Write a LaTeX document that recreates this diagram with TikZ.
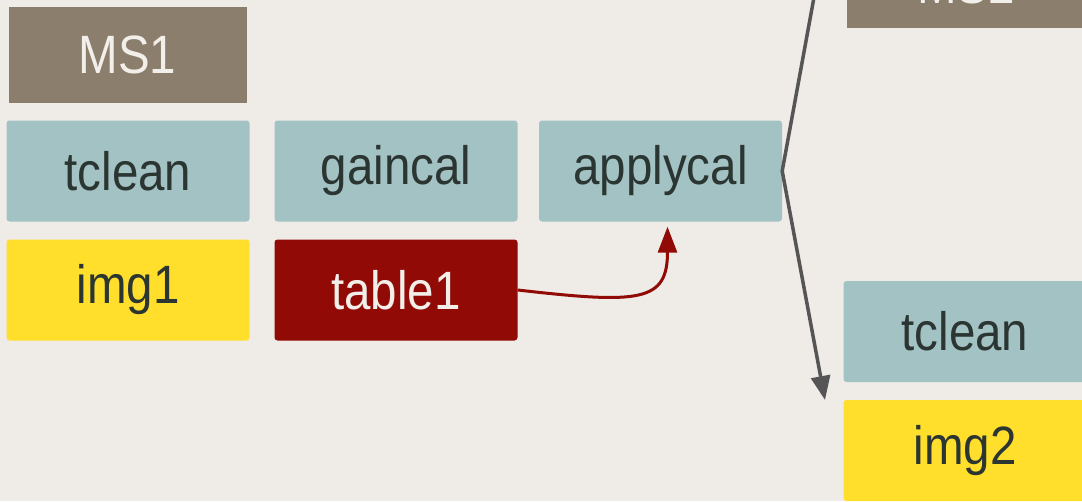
\documentclass[tikz,border=0pt]{standalone}
\usepackage{fontspec}
\setmainfont{Liberation Sans}
\newfontfamily\boxfont[FakeStretch=0.88]{Liberation Sans}
\usetikzlibrary{arrows.meta}
\definecolor{bgcol}{HTML}{EFECE8}
\definecolor{msbrown}{HTML}{8B7E6D}
\definecolor{taskteal}{HTML}{A3C2C4}
\definecolor{imgyellow}{HTML}{FFDF2C}
\definecolor{tabred}{HTML}{910A05}
\definecolor{darktxt}{HTML}{2B3532}
\definecolor{lighttxt}{HTML}{F2EEE9}
\definecolor{linegray}{HTML}{555555}

\begin{document}
\begin{tikzpicture}[x=1pt,y=-1pt,
  box/.style={inner sep=0pt, minimum width=243pt, minimum height=101pt, font=\boxfont\fontsize{54}{60}\selectfont},
  msbox/.style={box, fill=msbrown, text=lighttxt, minimum width=238pt, minimum height=96pt},
  task/.style={box, fill=taskteal, text=darktxt, rounded corners=3pt},
  img/.style={box, fill=imgyellow, text=darktxt, rounded corners=3pt},
  table/.style={box, fill=tabred, text=lighttxt, rounded corners=3pt}]
\useasboundingbox (0,0) rectangle (1082,501);
\fill[bgcol] (0,0) rectangle (1082,501);

\node[msbox] (MS1) at (127.5,55) {MS1};
\node[task] (T1) at (128,171) {tclean};
\node[task] (T2) at (396,171) {gaincal};
\node[task] (T3) at (660.5,171) {applycal};
\node[img] (I1) at (128,290) {img1};
\node[table] (Tab1) at (396,290) {table1};

\node[msbox, text height=47pt, text depth=0pt] (MS2) at (966,-20.5) {MS2};
\node[task] (T4) at (965,331.5) {tclean};
\node[img] (I2) at (965,450.5) {img2};

\coordinate (in2) at (819,-30);
\coordinate (out2) at (825,400);

\draw[linegray, line width=3.5pt, -{Triangle[length=24pt,width=19pt]}] (in2) -- (T3.east) -- (out2);
\draw[tabred, line width=3pt, -{Triangle[length=26pt,width=19pt]}, shorten >=5pt] (Tab1.east) .. controls (640,304) and (667.5,302) .. ([xshift=7pt]T3.south);
\end{tikzpicture}
\end{document}
